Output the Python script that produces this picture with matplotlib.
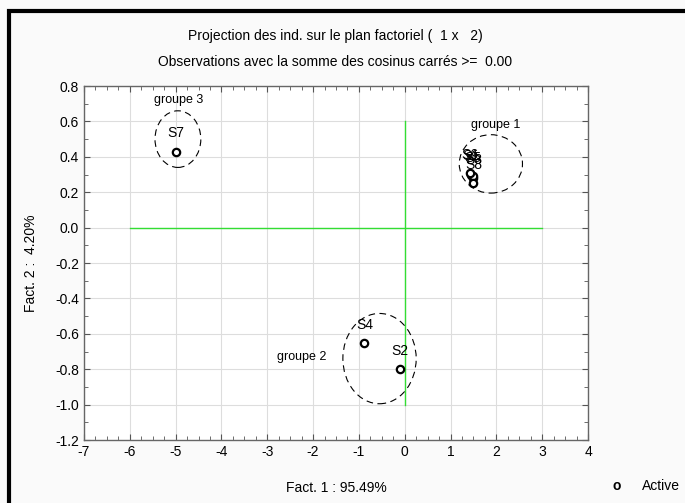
import matplotlib
matplotlib.use("Agg")
import matplotlib.pyplot as plt
from matplotlib.patches import Ellipse, Rectangle

plt.rcParams["font.family"] = ["Liberation Sans", "DejaVu Sans"]
plt.rcParams["axes.unicode_minus"] = False

# individuals (coordinates on factors 1 and 2)
names = ["S1", "S3", "S5", "S6", "S8", "S4", "S2", "S7"]
fact1 = [1.45, 1.50, 1.48, 1.42, 1.50, -0.88, -0.10, -5.00]
fact2 = [0.30, 0.28, 0.29, 0.31, 0.25, -0.65, -0.80, 0.43]

# groups drawn as dashed ellipses: center x, center y, width, height
group_names = ["groupe 1", "groupe 2", "groupe 3"]
group_cx = [1.88, -0.55, -4.95]
group_cy = [0.36, -0.74, 0.50]
group_w = [1.38, 1.60, 1.00]
group_h = [0.33, 0.51, 0.32]
group_label_x = [1.98, -2.25, -4.93]
group_label_y = [0.58, -0.73, 0.72]

fig = plt.figure(figsize=(6.85, 5.03), dpi=100, facecolor="#fafafa")
ax = fig.add_axes([0.1226, 0.1252, 0.7358, 0.7038])
ax.set_facecolor("white")

ax.set_xlim(-7, 4)
ax.set_ylim(-1.2, 0.8)
ax.set_xticks(range(-7, 5))
ax.set_xticks([x / 4 for x in range(-28, 17)], minor=True)
yt = [round(-1.2 + 0.2 * i, 1) for i in range(11)]
ax.set_yticks(yt)
ax.set_yticklabels([f"{v:.1f}" for v in yt])
ax.set_yticks([round(-1.2 + 0.1 * i, 2) for i in range(21)], minor=True)
ax.grid(True, which="major", color="#dddddd", lw=0.8)
ax.set_axisbelow(True)
ax.tick_params(which="both", direction="in", top=True, right=True,
               labelsize=10, color="#555555")
ax.tick_params(which="major", length=4)
ax.tick_params(which="minor", length=3)
for s in ax.spines.values():
    s.set_color("#666666")
    s.set_linewidth(1.0)

# green axes through origin
ax.plot([-6, 3], [0, 0], color="#33dd33", lw=1.0)
ax.plot([0, 0], [-1.0, 0.6], color="#33dd33", lw=1.0)

ax.scatter(fact1, fact2, s=28, facecolors="white", edgecolors="black",
           linewidths=1.6, zorder=3)
for n, x, y in zip(names, fact1, fact2):
    ax.annotate(n, (x, y), xytext=(0, 13), textcoords="offset points",
                ha="center", va="center", fontsize=10, color="black",
                zorder=4)

for i in range(len(group_names)):
    ax.add_patch(Ellipse((group_cx[i], group_cy[i]), group_w[i], group_h[i],
                         fill=False, ls=(0, (6, 4)), lw=0.8, color="black"))
    ax.text(group_label_x[i], group_label_y[i], group_names[i],
            ha="center", va="center", fontsize=9)

ax.set_xlabel("Fact. 1 : 95.49%", fontsize=10, labelpad=16)
ax.set_ylabel("Fact. 2 :  4.20%", fontsize=10, labelpad=12)

fig.text(0.489, 0.928, "Projection des ind. sur le plan factoriel (  1 x   2)",
         ha="center", va="center", fontsize=10)
fig.text(0.489, 0.877, "Observations avec la somme des cosinus carrés >=  0.00",
         ha="center", va="center", fontsize=10)

# legend
fig.text(0.901, 0.034, "o", ha="center", va="center", fontsize=10,
         fontweight="bold")
fig.text(0.937, 0.034, "Active", ha="left", va="center", fontsize=10)

# thick frame on top and left
fig.add_artist(Rectangle((0.0131, -0.1), 1.2, 1.078, transform=fig.transFigure,
                         fill=False, lw=3, ec="black"))

fig.savefig("out.png", dpi=100, facecolor=fig.get_facecolor())
